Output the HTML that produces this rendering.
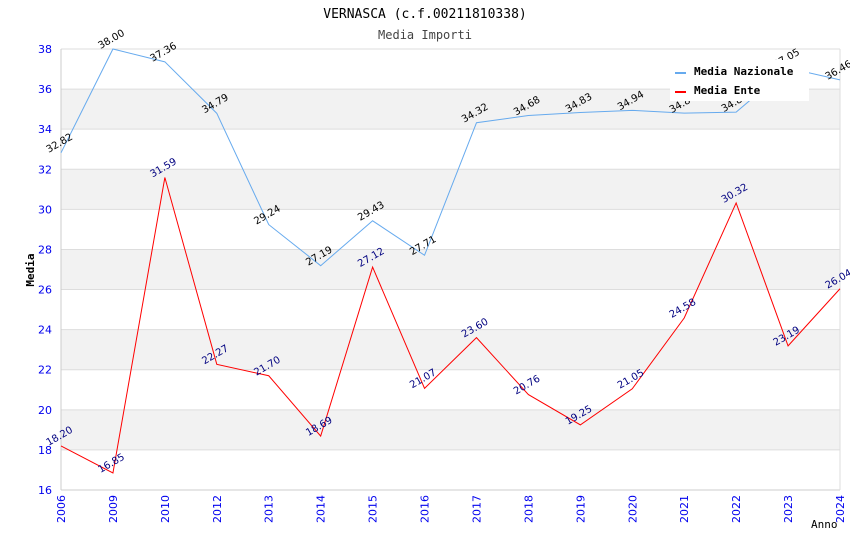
<!DOCTYPE html>
<html><head><meta charset="utf-8"><style>
body{margin:0;background:#fff}
svg text{font-family:"DejaVu Sans","Liberation Sans",sans-serif}
</style></head><body>
<svg id="chart" width="850" height="550" xmlns="http://www.w3.org/2000/svg">
<text x="425" y="18" text-anchor="middle" font-size="13" style="font-family:'DejaVu Sans Mono',monospace">VERNASCA (c.f.00211810338)</text>
<text x="425" y="39" text-anchor="middle" font-size="12" fill="#444" style="font-family:'DejaVu Sans Mono',monospace">Media Importi</text>
<g id="bands"></g><g id="grid"></g><g id="axes"></g><g id="series"></g><g id="labels"></g>
<text x="34" y="270" transform="rotate(-90 34 270)" text-anchor="middle" font-size="11" font-weight="bold" style="font-family:'DejaVu Sans Mono',monospace">Media</text>
<text x="811" y="528" font-size="11" style="font-family:'DejaVu Sans Mono',monospace">Anno</text>
<g>
<rect x="670" y="60" width="139" height="41" fill="#fff"/>
<line x1="675" y1="73" x2="686" y2="73" stroke="#66aaee" stroke-width="2"/>
<text x="694" y="75" font-size="11" font-weight="bold" style="font-family:'DejaVu Sans Mono',monospace">Media Nazionale</text>
<line x1="675" y1="92" x2="686" y2="92" stroke="#ff0000" stroke-width="2"/>
<text x="694" y="94" font-size="11" font-weight="bold" style="font-family:'DejaVu Sans Mono',monospace">Media Ente</text>
</g>
</svg>
<script>
const categories=["2006","2009","2010","2012","2013","2014","2015","2016","2017","2018","2019","2020","2021","2022","2023","2024"];
const nazionale=[32.82,38.00,37.36,34.79,29.24,27.19,29.43,27.71,34.32,34.68,34.83,34.94,34.80,34.85,37.05,36.46];
const ente=[18.20,16.85,31.59,22.27,21.70,18.69,27.12,21.07,23.60,20.76,19.25,21.05,24.58,30.32,23.19,26.04];
const yTicks=[16,18,20,22,24,26,28,30,32,34,36,38];
const NS="http://www.w3.org/2000/svg";
const L=61,R=840,T=49,B=490,yMin=16,yMax=38;
const xs=i=>L+(R-L)*i/(categories.length-1);
const ys=v=>B-(v-yMin)/(yMax-yMin)*(B-T);
function mk(tag,attrs,parent,txt){const e=document.createElementNS(NS,tag);for(const k in attrs)e.setAttribute(k,attrs[k]);if(txt!==undefined)e.textContent=txt;document.getElementById(parent).appendChild(e);return e;}
for(let i=0;i<yTicks.length-1;i++){
  if(i%2==1){const r=mk('rect',{x:L,y:ys(yTicks[i+1]),width:R-L,height:ys(yTicks[i])-ys(yTicks[i+1]),fill:'#f2f2f2'},'bands');
  
  }
}
yTicks.forEach(t=>{
  const l=mk('line',{x1:L,x2:R,y1:ys(t),y2:ys(t),stroke:'#dddddd'},'grid');
  
  
  const tx=mk('text',{x:L-9,y:ys(t)+4,'text-anchor':'end','font-size':'11',fill:'#0000ee'},'axes',String(t));
  
  
});
mk('line',{x1:L,x2:L,y1:T,y2:B,stroke:'#ccc'},'axes');
mk('line',{x1:L,x2:R,y1:B,y2:B,stroke:'#ccc'},'axes');
mk('line',{x1:R,x2:R,y1:T,y2:B,stroke:'#ddd'},'axes');
categories.forEach((c,i)=>{
  const x=xs(i);
  const tx=mk('text',{x:x+4,y:B+5,transform:`rotate(-90 ${x+4} ${B+5})`,'text-anchor':'end','font-size':'11',fill:'#0000ee'},'axes',c);
  
  
});
function series(vals,color,name,lblColor){
  const p=mk('polyline',{points:vals.map((v,i)=>xs(i)+','+ys(v)).join(' '),fill:'none',stroke:color,'stroke-width':1},'series');
  
  
  vals.forEach((v,i)=>{
    const x=xs(i),y=ys(v)-7;
    const t=mk('text',{x:x,y:y,transform:`rotate(-30 ${x} ${y})`,'text-anchor':'middle','font-size':'10',fill:lblColor},'labels',v.toFixed(2));
    
    
  });
}
series(nazionale,'#66aaee','media-nazionale-line','#000');
series(ente,'#ff0000','media-ente-line','#000080');
</script>
</body></html>
